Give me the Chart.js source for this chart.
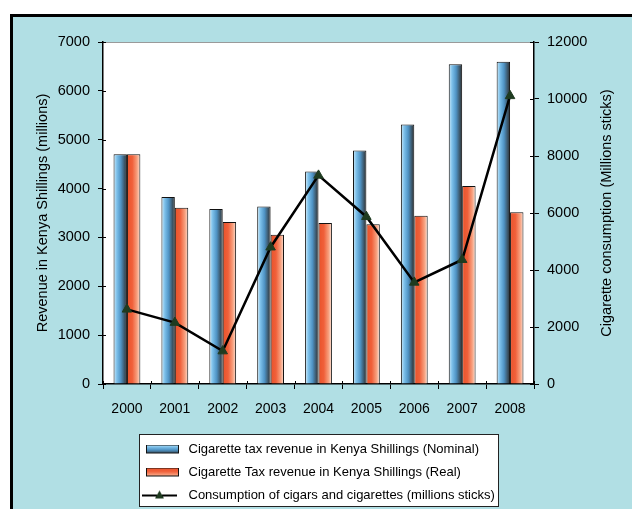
<!DOCTYPE html>
<html>
<head>
<meta charset="utf-8">
<script src="https://cdn.jsdelivr.net/npm/chart.js@4.4.1/dist/chart.umd.min.js"></script>
<style>
  html, body { margin: 0; padding: 0; background: #fff; }
  #contenedor { width: 632px; height: 509px; }
</style>
</head>
<body>
<div id="contenedor"><canvas id="grafica"></canvas></div>
<script>
// Datos
const anios = ['2000', '2001', '2002', '2003', '2004', '2005', '2006', '2007', '2008'];
const recaudoNominal = [4700, 3830, 3580, 3635, 4350, 4780, 5310, 6545, 6595]; // millones KSh
const recaudoReal = [4700, 3610, 3315, 3055, 3295, 3270, 3445, 4055, 3515];     // millones KSh
const consumo = [2620, 2155, 1155, 4800, 7320, 5870, 3565, 4360, 10110];       // millones de cigarrillos
const etiquetas = [
  'Cigarette tax revenue in Kenya Shillings (Nominal)',
  'Cigarette Tax revenue in Kenya Shillings (Real)',
  'Consumption of cigars and cigarettes (millions sticks)'
];

const fuente = '"Liberation Sans", Arial, sans-serif';
const anchoGrupo = 0.56;

// degradados horizontales de las barras
const coloresAzul = [[0, '#d2ecf9'], [0.25, '#7cc0ea'], [0.55, '#4f93c4'], [0.85, '#3a4f5e'], [1, '#2a2f33']];
const coloresRojo = [[0, '#e8522a'], [0.4, '#f0603a'], [0.75, '#f7a07e'], [1, '#fde3d6']];

function degradado(colores, lado) {
  return (c) => {
    const chart = c.chart;
    const x = chart.scales.x;
    if (!chart.chartArea || !x || c.dataIndex === undefined) return colores[1][1];
    const ancho = (x.width / anios.length) * anchoGrupo / 2;
    const centro = x.getPixelForValue(c.dataIndex);
    const ini = lado === 0 ? centro - ancho : centro;
    const g = chart.ctx.createLinearGradient(ini, 0, ini + ancho, 0);
    colores.forEach(([p, col]) => g.addColorStop(p, col));
    return g;
  };
}

// iconos de la leyenda
function iconoBarra(colores) {
  const cv = document.createElement('canvas');
  cv.width = 36; cv.height = 10;
  const c = cv.getContext('2d');
  const g = c.createLinearGradient(0, 0, 0, 10);
  colores.forEach(([p, col]) => g.addColorStop(p, col));
  c.fillStyle = g;
  c.fillRect(0.5, 0.5, 32, 8);
  c.strokeStyle = '#111';
  c.lineWidth = 1;
  c.strokeRect(0.5, 0.5, 32, 8);
  return cv;
}
function iconoLinea() {
  const cv = document.createElement('canvas');
  cv.width = 44; cv.height = 12;
  const c = cv.getContext('2d');
  c.strokeStyle = '#000';
  c.lineWidth = 2;
  c.beginPath(); c.moveTo(0, 6); c.lineTo(35, 6); c.stroke();
  c.fillStyle = '#1f3b20';
  c.beginPath(); c.moveTo(17.5, 1); c.lineTo(22, 9); c.lineTo(13, 9); c.closePath(); c.fill();
  return cv;
}
const iconos = [iconoBarra(coloresAzul), iconoBarra(coloresRojo), iconoLinea()];

// fondo, marco, área blanca, cuadro de leyenda y título derecho
const decorado = {
  id: 'decorado',
  afterLayout(chart) {
    const l = chart.legend;
    const alto = l.height;
    l.left = 136; l.right = 500;
    l.top = 433; l.bottom = 433 + alto;
  },
  beforeDraw(chart) {
    const { ctx, chartArea: a, width, height } = chart;
    ctx.save();
    ctx.fillStyle = '#fff';
    ctx.fillRect(0, 0, width, height);
    ctx.fillStyle = '#b1dfe4';
    ctx.fillRect(12, 16, width, height);
    ctx.strokeStyle = '#000';
    ctx.lineWidth = 3;
    ctx.beginPath();
    ctx.moveTo(11.5, height); ctx.lineTo(11.5, 15.5); ctx.lineTo(width, 15.5);
    ctx.stroke();
    ctx.fillStyle = '#fff';
    ctx.fillRect(a.left, a.top, a.width, a.height);
    ctx.strokeStyle = '#9a9a9a';
    ctx.lineWidth = 1;
    ctx.beginPath(); ctx.moveTo(a.left, a.top + 0.5); ctx.lineTo(a.right, a.top + 0.5); ctx.stroke();
    // cuadro de la leyenda
    ctx.fillStyle = '#fff';
    ctx.fillRect(139.5, 434.5, 359, 72);
    ctx.strokeStyle = '#222';
    ctx.strokeRect(139.5, 434.5, 359, 72);
    ctx.restore();
  },
  beforeDatasetsDraw(chart) {
    // parte interior de las marcas de los ejes
    const { ctx, scales } = chart;
    ctx.save();
    ctx.strokeStyle = '#000';
    ctx.lineWidth = 1;
    ctx.beginPath();
    scales.y.ticks.forEach(t => {
      const yy = Math.round(scales.y.getPixelForValue(t.value)) + 0.5;
      ctx.moveTo(scales.y.right, yy); ctx.lineTo(scales.y.right + 3, yy);
    });
    scales.y1.ticks.forEach(t => {
      const yy = Math.round(scales.y1.getPixelForValue(t.value)) + 0.5;
      ctx.moveTo(scales.y1.left, yy); ctx.lineTo(scales.y1.left - 4, yy);
    });
    const paso = scales.x.width / anios.length;
    for (let i = 0; i <= anios.length; i++) {
      const xx = Math.round(scales.x.left + i * paso) + 0.5;
      ctx.moveTo(xx, scales.x.top); ctx.lineTo(xx, scales.x.top - 3);
    }
    ctx.stroke();
    ctx.restore();
  },
  afterDraw(chart) {
    const { ctx, chartArea: a } = chart;
    ctx.save();
    ctx.font = '14.5px ' + fuente;
    ctx.fillStyle = '#000';
    ctx.textAlign = 'center';
    ctx.textBaseline = 'middle';
    ctx.translate(607, (a.top + a.bottom) / 2);
    ctx.rotate(-Math.PI / 2);
    ctx.fillText('Cigarette consumption (Millions sticks)', 0, 0);
    ctx.restore();
  }
};

const sinComas = (v) => String(v);

const chart = new Chart(document.getElementById('grafica'), {
  type: 'bar',
  data: {
    labels: anios,
    datasets: [
      {
        label: etiquetas[0],
        data: recaudoNominal,
        yAxisID: 'y',
        backgroundColor: degradado(coloresAzul, 0),
        borderColor: '#111',
        borderWidth: 1,
        categoryPercentage: anchoGrupo,
        barPercentage: 1,
        order: 1
      },
      {
        label: etiquetas[1],
        data: recaudoReal,
        yAxisID: 'y',
        backgroundColor: degradado(coloresRojo, 1),
        borderColor: '#111',
        borderWidth: 1,
        categoryPercentage: anchoGrupo,
        barPercentage: 1,
        order: 1
      },
      {
        type: 'line',
        label: etiquetas[2],
        data: consumo,
        yAxisID: 'y1',
        borderColor: '#000',
        borderWidth: 2.5,
        tension: 0,
        pointStyle: 'triangle',
        pointRadius: 5.5,
        pointBackgroundColor: '#1f3b20',
        pointBorderColor: '#1f3b20',
        pointBorderWidth: 1,
        order: 0
      }
    ]
  },
  options: {
    responsive: true,
    maintainAspectRatio: false,
    animation: false,
    devicePixelRatio: 1,
    layout: { padding: { left: 30, right: 42, top: 42, bottom: 12 } },
    plugins: {
      tooltip: { enabled: false },
      legend: {
        position: 'bottom',
        align: 'start',
        maxWidth: 400,
        labels: {
          usePointStyle: true,
          pointStyleWidth: 36,
          padding: 10,
          color: '#000',
          font: { family: fuente, size: 13 },
          generateLabels: () => etiquetas.map((t, i) => ({
            text: t,
            pointStyle: iconos[i],
            fillStyle: '#fff',
            strokeStyle: '#000',
            lineWidth: 0,
            hidden: false,
            datasetIndex: i
          }))
        }
      }
    },
    scales: {
      x: {
        offset: true,
        grid: { drawOnChartArea: false, offset: true, tickLength: 5, color: '#000' },
        border: { color: '#000', width: 1.5 },
        ticks: { color: '#000', font: { family: fuente, size: 14 }, padding: 12, maxRotation: 0 },
        afterFit: (s) => { s.height = 34; }
      },
      y: {
        position: 'left',
        min: 0,
        max: 7000,
        grid: { drawOnChartArea: false, tickLength: 5, color: '#000' },
        border: { color: '#000', width: 1.5 },
        ticks: { stepSize: 1000, color: '#000', font: { family: fuente, size: 14.5 }, padding: 8, callback: sinComas },
        title: {
          display: true,
          text: 'Revenue in Kenya Shillings (millions)',
          color: '#000',
          font: { family: fuente, size: 14.5 },
          padding: { top: 4, bottom: 6 }
        },
        afterFit: (s) => { s.width = 73; }
      },
      y1: {
        position: 'right',
        min: 0,
        max: 12000,
        grid: { drawOnChartArea: false, tickLength: 5, color: '#000' },
        border: { color: '#000', width: 1.5 },
        ticks: { stepSize: 2000, color: '#000', font: { family: fuente, size: 14.5 }, padding: 8, callback: sinComas },
        afterFit: (s) => { s.width = 56; }
      }
    }
  },
  plugins: [decorado]
});
</script>
</body>
</html>
